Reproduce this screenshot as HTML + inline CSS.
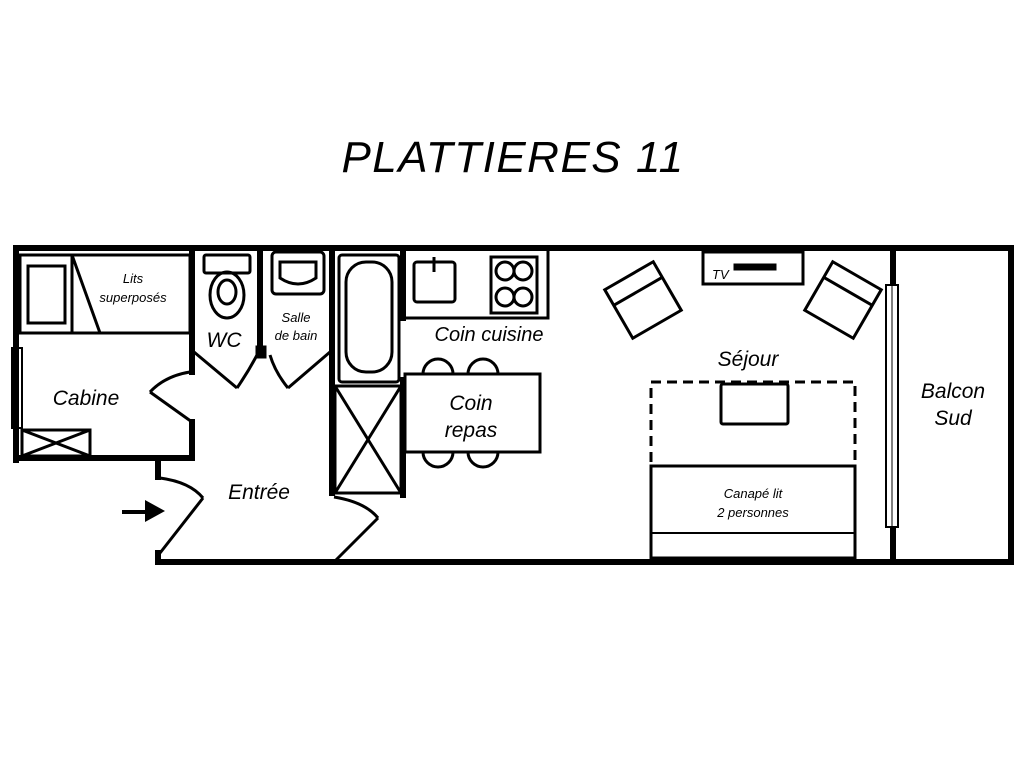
<!DOCTYPE html>
<html><head><meta charset="utf-8"><style>body{margin:0;background:#fff}svg{display:block}</style></head><body>
<svg width="1024" height="768" viewBox="0 0 1024 768" xmlns="http://www.w3.org/2000/svg" font-family="Liberation Sans, sans-serif" font-style="italic" fill="none" stroke="#000">
<rect width="1024" height="768" fill="#fff" stroke="none"/>
<text x="513" y="172" font-size="44" letter-spacing="1.5" text-anchor="middle" fill="#000" stroke="none">PLATTIERES 11</text>
<g stroke-width="6" stroke-linecap="square">
<polyline points="16,460 16,248 1011,248 1011,562 158,562 158,553"/>
<line x1="16" y1="458" x2="192" y2="458"/>
<line x1="192" y1="248" x2="192" y2="372"/>
<line x1="192" y1="422" x2="192" y2="458"/>
<line x1="158" y1="462" x2="158" y2="477"/>
<line x1="260" y1="248" x2="260" y2="353"/>
<line x1="332" y1="248" x2="332" y2="493"/>
<line x1="403" y1="248" x2="403" y2="318"/>
<line x1="403" y1="380" x2="403" y2="495"/>
<line x1="893" y1="248" x2="893" y2="562"/>
</g>
<g stroke-width="3">
<rect x="20" y="255" width="170" height="78"/>
<rect x="28" y="266" width="37" height="57"/>
<line x1="72" y1="255" x2="72" y2="333"/>
<line x1="72" y1="255" x2="100" y2="333"/>
<rect x="12" y="348" width="10" height="80" stroke-width="2"/>
<rect x="22" y="430" width="68" height="26"/>
<line x1="22" y1="430" x2="90" y2="456"/><line x1="90" y1="430" x2="22" y2="456"/>
<polyline points="192,422 150,392"/><path d="M150,392 Q165,376 190,372"/>
<polyline points="194,352 237,388"/><path d="M237,388 Q248,372 257,355"/>
<rect x="257" y="347" width="8" height="10" fill="#000"/>
<polyline points="330,352 288,388"/><path d="M288,388 Q275,372 270,355"/>
<polyline points="160,553 203,498"/><path d="M203,498 Q190,482 160,478"/>
<polyline points="334,562 378,518"/><path d="M378,518 Q365,502 334,497"/>
<rect x="204" y="255" width="46" height="18" rx="2"/>
<ellipse cx="227" cy="295" rx="17" ry="23"/><ellipse cx="227" cy="292" rx="9" ry="12"/>
<rect x="272" y="252" width="52" height="42" rx="4"/>
<path d="M280,262 H316 V278 Q298,290 280,278 Z"/>
<rect x="339" y="255" width="60" height="127" rx="3"/>
<rect x="346" y="262" width="46" height="110" rx="20"/>
<rect x="335" y="386" width="66" height="107"/>
<line x1="335" y1="386" x2="401" y2="493"/><line x1="401" y1="386" x2="335" y2="493"/>
<polyline points="403,318 548,318 548,250"/>
<rect x="414" y="262" width="41" height="40" rx="3"/>
<line x1="434" y1="257" x2="434" y2="272"/>
<rect x="491" y="257" width="46" height="56"/>
<circle cx="505" cy="271" r="9"/><circle cx="523" cy="271" r="9"/>
<circle cx="505" cy="297" r="9"/><circle cx="523" cy="297" r="9"/>
<path d="M423,374 A15,15 0 0 1 453,374 M468,374 A15,15 0 0 1 498,374"/>
<path d="M423,452 A15,15 0 0 0 453,452 M468,452 A15,15 0 0 0 498,452"/>
<rect x="405" y="374" width="135" height="78" fill="#fff"/>
<g transform="rotate(-30 643 300)"><rect x="615" y="272" width="56" height="56"/><line x1="615" y1="290" x2="671" y2="290"/></g>
<g transform="rotate(30 843 300)"><rect x="815" y="272" width="56" height="56"/><line x1="815" y1="290" x2="871" y2="290"/></g>
<rect x="703" y="252" width="100" height="32"/>
<rect x="735" y="265" width="40" height="4" fill="#000"/>
<rect x="651" y="382" width="204" height="84" stroke-dasharray="10,6"/>
<rect x="721" y="384" width="67" height="40" rx="2" fill="#fff"/>
<rect x="651" y="466" width="204" height="92"/>
<line x1="651" y1="533" x2="855" y2="533" stroke-width="2"/>
<rect x="886" y="285" width="12" height="242" stroke-width="2" fill="#fff"/>
<line x1="892" y1="285" x2="892" y2="527" stroke-width="1"/>
</g>
<path d="M122,510 H145 V500 L165,511 L145,522 V514 H122 Z" fill="#000" stroke="none"/>
<g fill="#000" stroke="none">
<text x="133" y="283" font-size="13" text-anchor="middle">Lits</text>
<text x="133" y="302" font-size="13" text-anchor="middle">superposés</text>
<text x="224" y="347" font-size="21" text-anchor="middle">WC</text>
<text x="296" y="322" font-size="13" text-anchor="middle">Salle</text>
<text x="296" y="340" font-size="13" text-anchor="middle">de bain</text>
<text x="86" y="405" font-size="21" text-anchor="middle">Cabine</text>
<text x="259" y="499" font-size="21" text-anchor="middle">Entrée</text>
<text x="489" y="341" font-size="20" text-anchor="middle">Coin cuisine</text>
<text x="471" y="410" font-size="21" text-anchor="middle">Coin</text>
<text x="471" y="437" font-size="21" text-anchor="middle">repas</text>
<text x="748" y="366" font-size="21" text-anchor="middle">Séjour</text>
<text x="712" y="279" font-size="13">TV</text>
<text x="753" y="498" font-size="13" text-anchor="middle">Canapé lit</text>
<text x="753" y="517" font-size="13" text-anchor="middle">2 personnes</text>
<text x="953" y="398" font-size="21" text-anchor="middle">Balcon</text>
<text x="953" y="425" font-size="21" text-anchor="middle">Sud</text>
</g>
</svg>
</body></html>
